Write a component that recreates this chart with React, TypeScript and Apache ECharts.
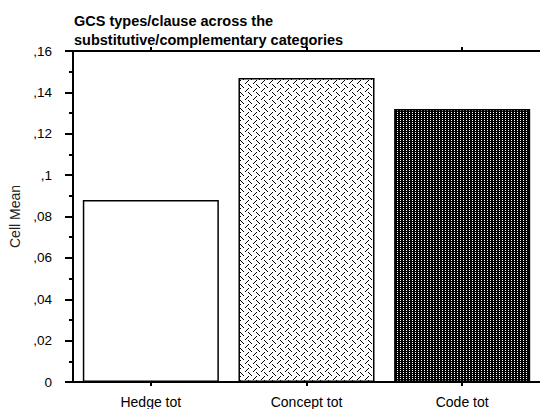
import React, { useEffect, useRef } from "react";
import * as echarts from "echarts";

const categories = ["Hedge tot", "Concept tot", "Code tot"];
const values = [0.088, 0.147, 0.132];
const titleLines = ["GCS types/clause across the", "substitutive/complementary categories"];
const yName = "Cell Mean";

function makePattern(w: number, h: number, bg: string, fg: string, on: (x: number, y: number) => boolean) {
  const c = document.createElement("canvas");
  c.width = w;
  c.height = h;
  const ctx = c.getContext("2d")!;
  ctx.fillStyle = bg;
  ctx.fillRect(0, 0, w, h);
  ctx.fillStyle = fg;
  for (let y = 0; y < h; y++) for (let x = 0; x < w; x++) if (on(x, y)) ctx.fillRect(x, y, 1, 1);
  return c;
}

export default function App() {
  const ref = useRef<HTMLDivElement>(null);
  useEffect(() => {
    if (!ref.current) return;
    const chart = echarts.init(ref.current, undefined, { renderer: "svg" });
    const hatch = makePattern(8, 8, "#ffffff", "#000000", (x, y) =>
      y < 4 ? (x + y) % 8 === 0 : (x - y + 16) % 8 === 4
    );
    const dense = makePattern(3, 2, "#000000", "#ffffff", (x, y) => x === 1 && y === 0);
    const fills: any[] = [
      "#ffffff",
      { image: hatch.toDataURL(), repeat: "repeat" },
      { image: dense.toDataURL(), repeat: "repeat" },
    ];
    const font = "'Liberation Sans', Arial, sans-serif";
    const tick = { show: true, alignWithLabel: true, length: 4, lineStyle: { color: "#000", width: 2 } };
    chart.setOption({
      animation: false,
      backgroundColor: "#ffffff",
      title: titleLines.map((t, i) => ({
        text: t,
        left: 74,
        top: 13 + i * 19,
        padding: 0,
        textStyle: { fontSize: 14.5, fontWeight: "bold", fontFamily: font, color: "#000" },
      })),
      grid: { left: 73, top: 51, bottom: 27, right: -7, containLabel: false },
      xAxis: [
        {
          type: "category",
          data: categories,
          position: "bottom",
          axisLine: { show: true, lineStyle: { color: "#000", width: 2 } },
          axisTick: tick,
          axisLabel: { color: "#000", fontSize: 14, fontFamily: font, margin: 13 },
        },
        {
          type: "category",
          data: categories,
          position: "top",
          axisLine: { show: true, lineStyle: { color: "#000", width: 2 } },
          axisTick: tick,
          axisLabel: { show: false },
        },
      ],
      yAxis: {
        type: "value",
        min: 0,
        max: 0.16,
        interval: 0.02,
        name: yName,
        nameLocation: "middle",
        nameGap: 47,
        nameRotate: 90,
        nameTextStyle: { fontSize: 14, fontFamily: font, color: "#222" },
        axisLine: { show: true, lineStyle: { color: "#000", width: 2 } },
        axisTick: { show: true, length: 8, lineStyle: { color: "#000", width: 2 } },
        minorTick: { show: true, splitNumber: 2, length: 4, lineStyle: { color: "#000", width: 2 } },
        splitLine: { show: false },
        axisLabel: {
          color: "#000",
          fontSize: 13.5,
          fontFamily: font,
          margin: 21,
          formatter: (v: number) => {
            if (Math.abs(v) < 1e-9) return "0";
            let s = v.toFixed(2).replace(/0+$/, "");
            return s.replace(/^0\./, ",");
          },
        },
      },
      series: [
        {
          type: "bar",
          xAxisIndex: 0,
          barCategoryGap: "12.6%",
          data: values.map((v, i) => ({
            value: v,
            itemStyle: { color: fills[i], borderColor: "#000", borderWidth: 1.5 },
          })),
        },
      ],
    });
    return () => chart.dispose();
  }, []);
  return (
    <div
      ref={ref}
      style={{ position: "fixed", left: 0, top: 0, width: 540, height: 409, background: "#fff" }}
    />
  );
}
